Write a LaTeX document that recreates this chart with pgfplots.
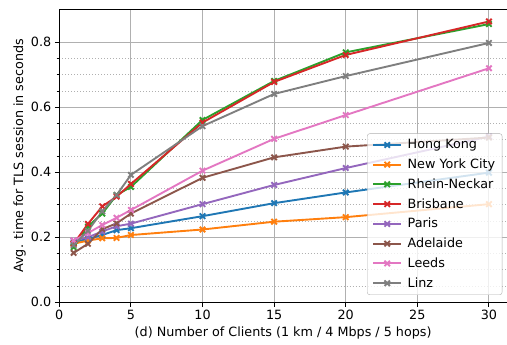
\documentclass[border=0pt]{standalone}
\usepackage{fontspec}
\setmainfont{DejaVu Sans}
\usepackage{pgfplots}
\pgfplotsset{compat=1.18}
\definecolor{c0}{HTML}{1F77B4}
\definecolor{c1}{HTML}{FF7F0E}
\definecolor{c2}{HTML}{2CA02C}
\definecolor{c3}{HTML}{D62728}
\definecolor{c4}{HTML}{9467BD}
\definecolor{c5}{HTML}{8C564B}
\definecolor{c6}{HTML}{E377C2}
\definecolor{c7}{HTML}{7F7F7F}
\definecolor{gridc}{HTML}{B0B0B0}
\begin{document}
\begin{tikzpicture}
\begin{axis}[
  scale only axis,
  width=447.7bp, height=293bp,
  xmin=0, xmax=31.26, ymin=0, ymax=0.9015,
  axis y line*=left, axis x line*=box,
  xtick pos=bottom,
  xtick={0,5,10,15,20,25,30},
  ytick={0,0.2,0.4,0.6,0.8},
  minor y tick num=3,
  tick align=outside,
  major tick length=4.5bp, minor tick length=2.6bp,
  every tick/.style={black, line width=1bp},
  axis line style={black, line width=1bp},
  xmajorgrids, ymajorgrids, yminorgrids,
  major grid style={gridc, line width=1bp},
  minor grid style={gridc, line width=1bp, dotted},
  /pgf/number format/assume math mode=true,
  yticklabel style={/pgf/number format/.cd, fixed, fixed zerofill, precision=1},
  ticklabel style={font=\fontsize{12.8}{15}\selectfont},
  label style={font=\fontsize{12.8}{15}\selectfont},
  xlabel={(d) Number of Clients (1 km / 4 Mbps / 5 hops)},
  ylabel={Avg. time for TLS session in seconds},
  ylabel style={xshift=0bp, yshift=-1.5bp},
  every axis plot/.append style={line width=1.9bp, mark=x, mark size=3.85bp, mark options={solid}},
  legend cell align=left,
  legend style={at={(rel axis cs:0.9895,0.025)}, anchor=south east,
    font=\fontsize{12.8}{15}\selectfont, draw=gridc, fill=white, fill opacity=0.8, text opacity=1,
    rounded corners=2.5bp, row sep=4.6bp, inner xsep=5bp, inner ysep=4bp,
    /tikz/every odd column/.append style={column sep=3.5bp}},
  legend image code/.code={\draw[mark repeat=2, mark phase=2] plot coordinates {(0bp,0bp) (14bp,0bp) (28bp,0bp)};},
]
\addplot[c0] coordinates {(1,0.185) (2,0.195) (3,0.207) (4,0.222) (5,0.228) (10,0.265) (15,0.305) (20,0.338) (30,0.399)};
\addlegendentry{Hong Kong}
\addplot[c1] coordinates {(1,0.180) (2,0.190) (3,0.197) (4,0.198) (5,0.207) (10,0.224) (15,0.248) (20,0.262) (30,0.302)};
\addlegendentry{New York City}
\addplot[c2] coordinates {(1,0.170) (2,0.233) (3,0.273) (4,0.330) (5,0.355) (10,0.561) (15,0.681) (20,0.769) (30,0.856)};
\addlegendentry{Rhein-Neckar}
\addplot[c3] coordinates {(1,0.180) (2,0.241) (3,0.295) (4,0.325) (5,0.364) (10,0.553) (15,0.678) (20,0.761) (30,0.864)};
\addlegendentry{Brisbane}
\addplot[c4] coordinates {(1,0.190) (2,0.200) (3,0.218) (4,0.234) (5,0.242) (10,0.302) (15,0.361) (20,0.413) (30,0.510)};
\addlegendentry{Paris}
\addplot[c5] coordinates {(1,0.152) (2,0.180) (3,0.225) (4,0.243) (5,0.273) (10,0.383) (15,0.446) (20,0.479) (30,0.507)};
\addlegendentry{Adelaide}
\addplot[c6] coordinates {(1,0.190) (2,0.213) (3,0.238) (4,0.260) (5,0.284) (10,0.405) (15,0.503) (20,0.576) (30,0.720)};
\addlegendentry{Leeds}
\addplot[c7] coordinates {(1,0.176) (2,0.220) (3,0.280) (4,0.330) (5,0.392) (10,0.542) (15,0.641) (20,0.696) (30,0.798)};
\addlegendentry{Linz}
\coordinate (bl) at (rel axis cs:0,0);
\coordinate (tr) at (rel axis cs:1,1);
\end{axis}
\pgfresetboundingbox
\path ([xshift=-59.3bp,yshift=-42.7bp]bl) rectangle ([yshift=9.3bp]tr);
\end{tikzpicture}
\end{document}
